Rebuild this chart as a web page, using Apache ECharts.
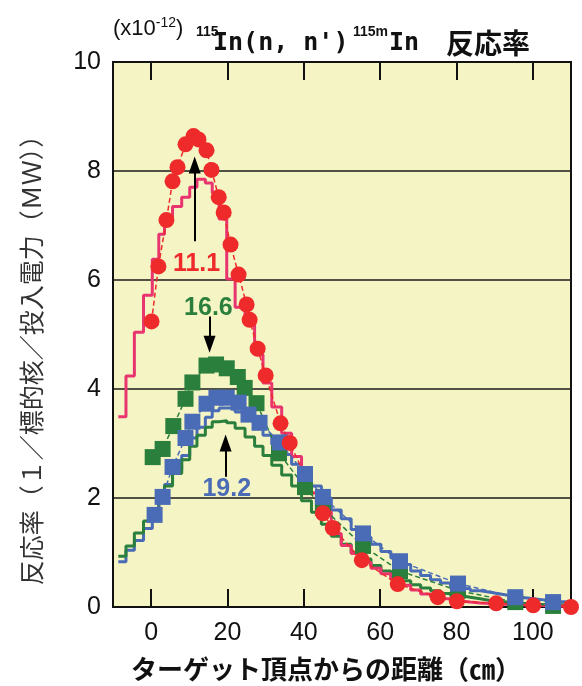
<!DOCTYPE html>
<html>
<head>
<meta charset="utf-8">
<script src="https://cdn.jsdelivr.net/npm/echarts@6/dist/echarts.min.js"></script>
<style>
html,body{margin:0;padding:0;background:#fff;}
#chart{width:582px;height:686px;}
</style>
</head>
<body>
<div id="chart"></div>
<script>
// Tick labels
const xTicks = [0, 20, 40, 60, 80, 100];

// Measured reaction rates (x10^-12), distance from target apex in cm
const meas111X = [0.1, 1.9, 4.0, 5.6, 6.9, 9.0, 11.1, 12.4, 14.5, 15.8, 17.7, 19.0, 20.8, 22.9, 25.0, 25.8, 27.9, 30.0, 33.9, 36.3, 45.0, 47.6, 55.2, 64.6, 75.1, 80.1, 90.4, 100.1, 110.0];
const meas111Y = [5.24, 6.25, 7.10, 7.81, 8.07, 8.49, 8.64, 8.58, 8.38, 8.02, 7.52, 7.24, 6.65, 6.10, 5.55, 5.27, 4.74, 4.25, 3.37, 3.01, 1.72, 1.45, 0.86, 0.42, 0.18, 0.105, 0.068, 0.03, 0.0];

const meas166X = [0.4, 3.0, 5.8, 9.0, 10.8, 14.5, 17.0, 19.8, 22.7, 24.5, 27.6, 33.5, 40.3, 45.0, 55.5, 65.2, 80.4, 95.4, 105.3];
const meas166Y = [2.75, 2.90, 3.32, 3.82, 4.12, 4.43, 4.45, 4.38, 4.22, 4.02, 3.74, 2.82, 2.20, 1.82, 1.12, 0.66, 0.30, 0.09, 0.02];

const meas192X = [0.9, 3.0, 5.6, 9.0, 10.8, 14.5, 17.1, 19.8, 22.9, 25.5, 28.4, 33.8, 40.3, 45.0, 55.5, 65.2, 80.4, 95.4, 105.3];
const meas192Y = [1.69, 2.02, 2.57, 3.10, 3.40, 3.73, 3.84, 3.84, 3.75, 3.53, 3.38, 3.02, 2.44, 2.02, 1.35, 0.84, 0.43, 0.18, 0.09];

// Calculated rates: bin edges (cm) and one value per bin
const calcEdges = [-8.6, -6.6, -4.4, -2.0, 0.3, 2.0, 3.5, 5.6, 8.0, 10.1, 12.0, 14.2, 16.0, 17.8, 19.8, 22.0, 24.6, 27.1, 29.3, 31.6, 34.2, 36.8, 39.4, 42.0, 44.6, 47.2, 49.8, 52.4, 55.0, 57.6, 60.2, 62.8, 65.4, 68.0, 70.6, 73.2, 75.8, 78.4, 81.0, 83.6, 86.2, 88.8, 91.4, 94.0, 96.6, 99.2, 101.8, 104.4, 107.0, 109.6];
const calc111 = [3.49, 4.24, 5.04, 5.72, 6.38, 6.84, 7.15, 7.35, 7.52, 7.70, 7.85, 7.78, 7.60, 7.12, 6.02, 5.50, 5.22, 4.63, 4.11, 3.67, 3.19, 2.76, 2.45, 2.09, 1.75, 1.35, 1.13, 0.98, 0.82, 0.71, 0.61, 0.52, 0.40, 0.31, 0.24, 0.19, 0.15, 0.11, 0.09, 0.075, 0.065, 0.055, 0.048, 0.04, 0.035, 0.03, 0.025, 0.02, 0.018];
const calc166 = [0.93, 1.12, 1.36, 1.58, 1.80, 2.00, 2.22, 2.45, 2.70, 2.95, 3.15, 3.30, 3.40, 3.42, 3.38, 3.28, 3.12, 2.95, 2.78, 2.60, 2.42, 2.22, 1.95, 1.74, 1.52, 1.30, 1.15, 1.00, 0.88, 0.76, 0.66, 0.56, 0.48, 0.41, 0.35, 0.30, 0.25, 0.21, 0.18, 0.15, 0.12, 0.10, 0.085, 0.07, 0.06, 0.05, 0.045, 0.04, 0.035];
const calc192 = [0.83, 1.04, 1.22, 1.44, 1.70, 1.95, 2.25, 2.50, 2.78, 3.10, 3.30, 3.48, 3.60, 3.65, 3.65, 3.58, 3.45, 3.30, 3.15, 2.98, 2.80, 2.62, 2.45, 2.22, 2.00, 1.78, 1.62, 1.42, 1.28, 1.15, 1.02, 0.90, 0.78, 0.66, 0.58, 0.50, 0.44, 0.38, 0.34, 0.30, 0.27, 0.24, 0.21, 0.18, 0.16, 0.14, 0.12, 0.10, 0.09];

const RED = '#ee2a2a', PINK = '#e9356f', GREEN = '#2a7f3c', BLUE = '#4a6cb6';

function pairs(xs, ys) { return xs.map((x, i) => [x, ys[i]]); }
// Histogram outline: each value holds across its bin
function stepPath(edges, vals) {
  const out = [];
  vals.forEach((v, i) => { out.push([edges[i], v]); out.push([edges[i + 1], v]); });
  return out;
}

const chart = echarts.init(document.getElementById('chart'));

function stepSeries(name, vals, color) {
  return {
    name, type: 'line', data: stepPath(calcEdges, vals), symbol: 'none',
    lineStyle: { color, width: 3 }, silent: true, animation: false, z: 2
  };
}
function measSeries(name, xs, ys, color, symbol, size, extra) {
  return Object.assign({
    name, type: 'line', data: pairs(xs, ys), symbol, symbolSize: size,
    itemStyle: { color }, lineStyle: { color, width: 1.5, type: [5, 3] },
    silent: true, animation: false, z: 3, clip: false
  }, extra || {});
}
function arrow(x, y0, y1) {
  return [{ coord: [x, y0] }, { coord: [x, y1] }];
}
function tag(text, x, y, color) {
  return {
    coord: [x, y], value: text, symbol: 'rect', symbolSize: 1,
    itemStyle: { color: 'rgba(0,0,0,0)' },
    label: { show: true, position: 'inside', formatter: text, color, fontSize: 25,
      fontWeight: 'bold', fontFamily: 'Liberation Sans, Arial, sans-serif' }
  };
}
const arrowStyle = {
  silent: true, symbol: ['none', 'triangle'], symbolSize: [12, 17],
  lineStyle: { color: '#000', width: 2, type: 'solid' }, label: { show: false },
  animation: false
};

chart.setOption({
  animation: false,
  grid: { left: 113, top: 62, right: 11, bottom: 79, show: true,
    backgroundColor: '#f5f4c4', borderColor: '#111', borderWidth: 2 },
  xAxis: [{
    type: 'value', min: -10, max: 110, position: 'bottom',
    axisLine: { show: true, onZero: false, lineStyle: { color: '#111', width: 2 } },
    axisTick: { show: true, inside: true, length: 18, customValues: xTicks, lineStyle: { color: '#111', width: 2 } },
    axisLabel: { customValues: xTicks, color: '#111', fontSize: 25, margin: 14,
      fontFamily: 'Liberation Sans, Arial, sans-serif' },
    splitLine: { show: false }
  }, {
    type: 'value', min: -10, max: 110, position: 'top',
    axisLine: { show: true, onZero: false, lineStyle: { color: '#111', width: 2 } },
    axisTick: { show: true, inside: true, length: 18, customValues: xTicks, lineStyle: { color: '#111', width: 2 } },
    axisLabel: { show: false }, splitLine: { show: false }
  }],
  yAxis: {
    type: 'value', min: 0, max: 10, interval: 2,
    axisLine: { show: true, onZero: false, lineStyle: { color: '#111', width: 2 } },
    axisTick: { show: false },
    axisLabel: { color: '#111', fontSize: 25, margin: 12,
      fontFamily: 'Liberation Sans, Arial, sans-serif' },
    splitLine: { show: true, lineStyle: { color: '#1a1a1a', width: 1.5 } }
  },
  graphic: [
    { type: 'text', x: 31, y: 354, z: 10, rotation: Math.PI / 2,
      style: { text: '反応率（１／標的核／投入電力（ＭＷ））', fill: '#333',
        font: '25px "Noto Sans CJK JP", sans-serif', align: 'center', verticalAlign: 'middle' } },
    { type: 'text', x: 326, y: 669, z: 10,
      style: { text: 'ターゲット頂点からの距離（㎝）', fill: '#111',
        font: 'bold 26px "Noto Sans CJK JP", sans-serif', align: 'center', verticalAlign: 'middle' } },
    { type: 'text', x: 113, y: 28, z: 10,
      style: { text: '{a|(x10}{s|-12}{a|)}', verticalAlign: 'middle',
        rich: {
          a: { fontSize: 22, fontFamily: 'Liberation Sans, Arial, sans-serif', fill: '#111', verticalAlign: 'bottom' },
          s: { fontSize: 14, fontFamily: 'Liberation Sans, Arial, sans-serif', fill: '#111', verticalAlign: 'top', padding: [0, 0, 10, 0] }
        } } },
    { type: 'text', x: 196, y: 32, z: 10,
      style: { text: '115', fill: '#111', font: 'bold 14px "Liberation Sans", Arial, sans-serif', verticalAlign: 'middle' } },
    { type: 'text', x: 213, y: 43, z: 10,
      style: { text: "In(n, n')", fill: '#111', font: 'bold 25px "DejaVu Sans Mono", monospace', verticalAlign: 'middle' } },
    { type: 'text', x: 353, y: 32, z: 10,
      style: { text: '115m', fill: '#111', font: 'bold 14px "Liberation Sans", Arial, sans-serif', verticalAlign: 'middle' } },
    { type: 'text', x: 389, y: 43, z: 10,
      style: { text: 'In', fill: '#111', font: 'bold 25px "DejaVu Sans Mono", monospace', verticalAlign: 'middle' } },
    { type: 'text', x: 446, y: 43, z: 10,
      style: { text: '反応率', fill: '#111', font: 'bold 28px "Noto Sans CJK JP", sans-serif', verticalAlign: 'middle' } }
  ],
  series: [
    stepSeries('計算 19.2', calc192, BLUE),
    stepSeries('計算 16.6', calc166, GREEN),
    stepSeries('計算 11.1', calc111, PINK),
    measSeries('測定 16.6', meas166X, meas166Y, GREEN, 'rect', 16, {
      markLine: Object.assign({}, arrowStyle, { data: [arrow(15.3, 5.33, 4.82)] }),
      markPoint: { silent: true, animation: false, data: [tag('16.6', 15.0, 5.48, GREEN)] }
    }),
    measSeries('測定 19.2', meas192X, meas192Y, BLUE, 'rect', 16, {
      markLine: Object.assign({}, arrowStyle, { data: [arrow(19.5, 2.39, 3.01)] }),
      markPoint: { silent: true, animation: false, data: [tag('19.2', 19.8, 2.17, BLUE)] }
    }),
    measSeries('測定 11.1', meas111X, meas111Y, RED, 'circle', 16, {
      markLine: Object.assign({}, arrowStyle, { data: [arrow(11.4, 6.71, 8.11)] }),
      markPoint: { silent: true, animation: false, data: [tag('11.1', 11.9, 6.29, RED)] }
    })
  ]
});
</script>
</body>
</html>
